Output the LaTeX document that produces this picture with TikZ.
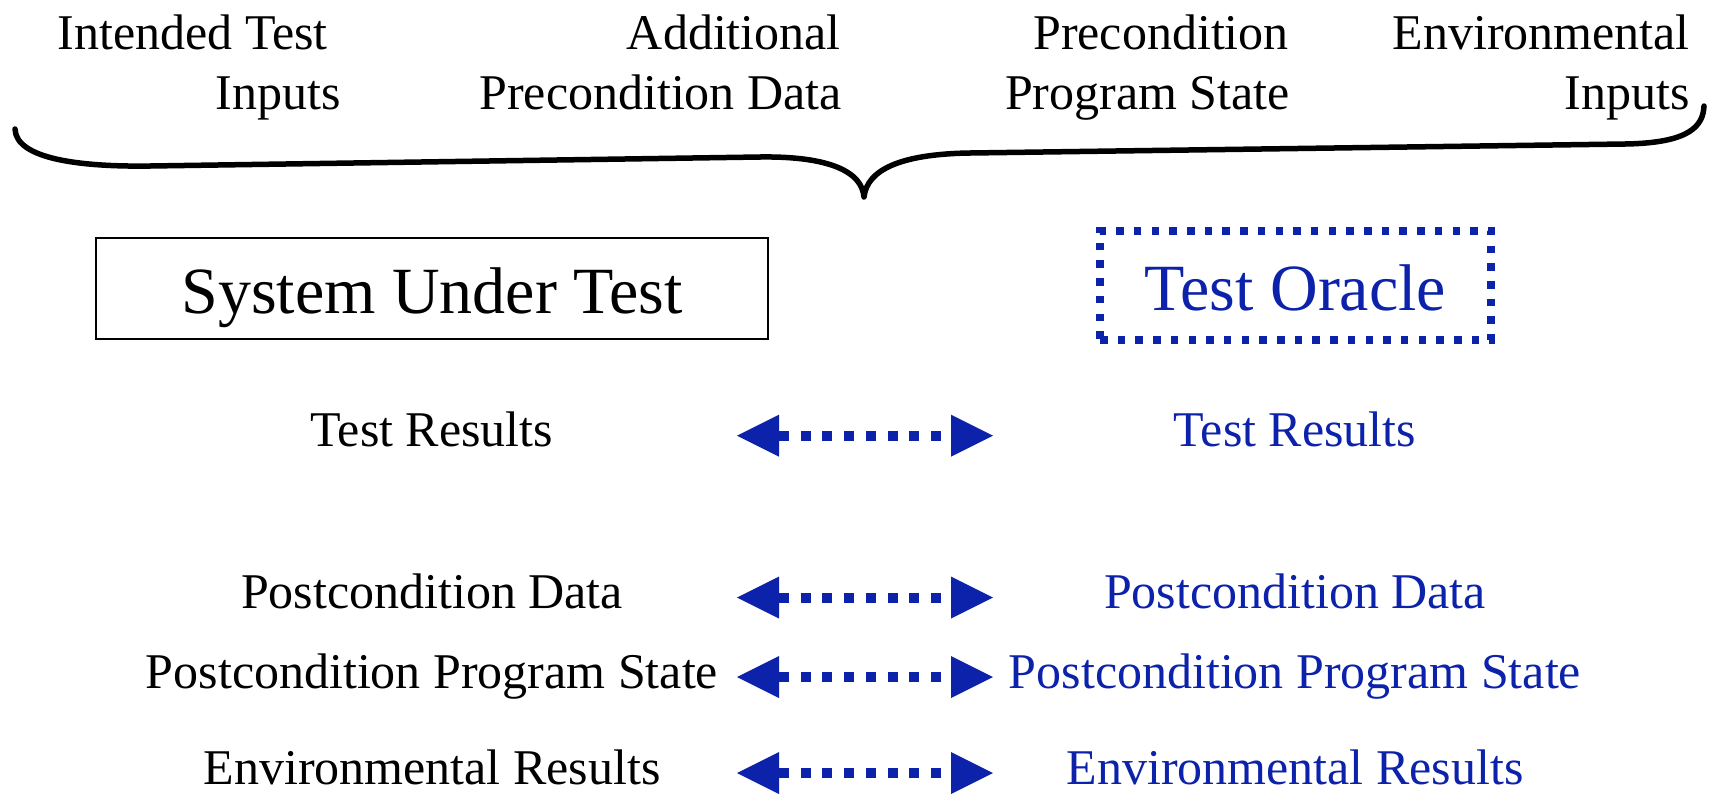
\documentclass[tikz,border=0pt]{standalone}
\usepackage{fontspec}
\setmainfont{Liberation Serif}
\usetikzlibrary{arrows.meta}
\definecolor{oblue}{RGB}{12,34,170}
\begin{document}
\begin{tikzpicture}[x=1pt,y=-1pt,
  txt/.style={inner sep=0pt, font=\fontsize{50}{60}\selectfont},
  btxt/.style={txt, text=oblue},
  bigtxt/.style={inner sep=0pt, font=\fontsize{66}{79}\selectfont, text height=50pt, text depth=0pt},
  suttbox/.style={bigtxt, draw=black, line width=2pt, minimum width=672pt, minimum height=101pt},
  oraclebox/.style={bigtxt, text=oblue, draw=oblue, line width=7.5pt, dash pattern=on 7.5pt off 10.2pt, minimum width=391pt, minimum height=109pt},
  dblarrow/.style={draw=oblue, line width=10pt, dash pattern=on 10pt off 11.7pt,
    {Triangle[length=42pt,width=42pt,line width=0pt]}-{Triangle[length=42pt,width=42pt,line width=0pt]}},
  bracestyle/.style={draw=black, line width=5.5pt, line cap=round, line join=round}
]
\useasboundingbox (0,0) rectangle (1713,793);

% top labels
\node[txt, anchor=base east] (it1) at (328,49) {Intended Test};
\node[txt, anchor=base east] (it2) at (341,109) {Inputs};
\node[txt, anchor=base east] (ad1) at (841,49) {Additional};
\node[txt, anchor=base east] (ad2) at (842,109) {Precondition Data};
\node[txt, anchor=base east] (pp1) at (1289,49) {Precondition};
\node[txt, anchor=base east] (pp2) at (1290,109) {Program State};
\node[txt, anchor=base east] (ei1) at (1690,49) {Environmental};
\node[txt, anchor=base east] (ei2) at (1690,109) {Inputs};

% brace
\draw[bracestyle] (15,129) .. controls (16,159) and (80,167) .. (150,166)
  -- (760,157) .. controls (830,156) and (862,172) .. (864,197)
  .. controls (867,170) and (900,154) .. (970,153)
  -- (1625,144) .. controls (1690,143) and (1703,126) .. (1704,106);

% boxes
\node[suttbox] (sut) at (432,288.5) {System Under Test};
\node[oraclebox] (oracle) at (1295.5,285.5) {Test Oracle};

% left column
\node[txt, anchor=base] (l1) at (432,446.7) {Test Results};
\node[txt, anchor=base] (l2) at (432,608.5) {Postcondition Data};
\node[txt, anchor=base] (l3) at (432,688) {Postcondition Program State};
\node[txt, anchor=base] (l4) at (432,784) {Environmental Results};

% right column
\node[btxt, anchor=base] (r1) at (1295,446.7) {Test Results};
\node[btxt, anchor=base] (r2) at (1295,608.5) {Postcondition Data};
\node[btxt, anchor=base] (r3) at (1295,688) {Postcondition Program State};
\node[btxt, anchor=base] (r4) at (1295,784) {Environmental Results};

% arrows
\coordinate (a1l) at (737,435.7); \coordinate (a1r) at (993,435.7);
\coordinate (a2l) at (737,597.5); \coordinate (a2r) at (993,597.5);
\coordinate (a3l) at (737,677);   \coordinate (a3r) at (993,677);
\coordinate (a4l) at (737,773);   \coordinate (a4r) at (993,773);
\draw[dblarrow] (a1l) -- (a1r);
\draw[dblarrow] (a2l) -- (a2r);
\draw[dblarrow] (a3l) -- (a3r);
\draw[dblarrow] (a4l) -- (a4r);
\end{tikzpicture}
\end{document}
